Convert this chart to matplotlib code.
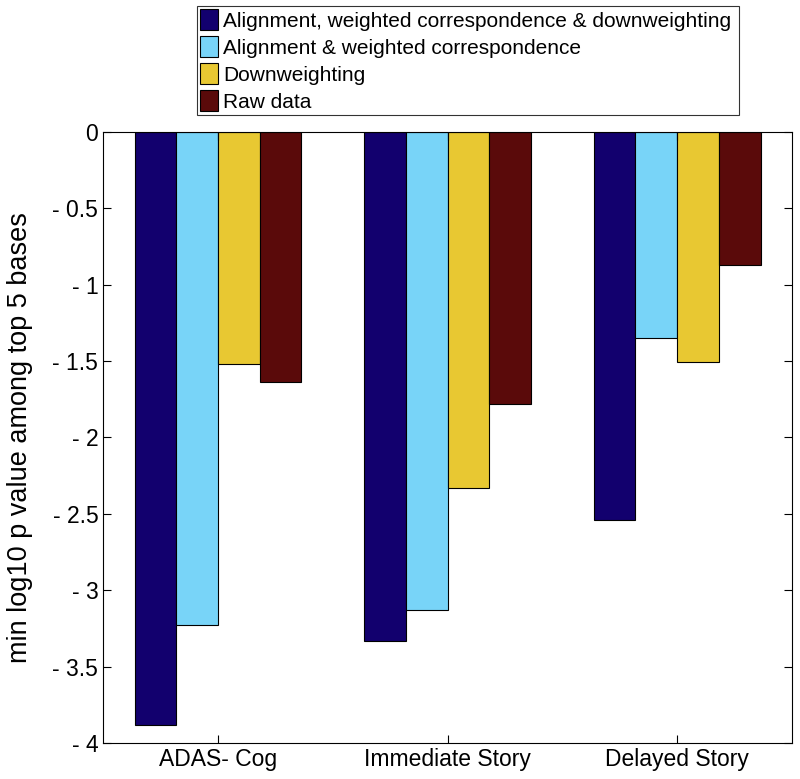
import numpy as np
import matplotlib
matplotlib.use("Agg")
from matplotlib import pyplot as plt

plt.rcParams['font.family'] = ['Liberation Sans', 'DejaVu Sans']

groups = ['ADAS- Cog', 'Immediate Story', 'Delayed Story']
series = ['Alignment, weighted correspondence & downweighting',
          'Alignment & weighted correspondence',
          'Downweighting',
          'Raw data']
full_method = [-3.88, -3.33, -2.54]
align_corr = [-3.23, -3.13, -1.35]
downweight = [-1.52, -2.33, -1.51]
raw_data = [-1.64, -1.78, -0.87]
colors = ['#12006e', '#78d4f8', '#e8c832', '#5a0a0a']

fig = plt.figure(figsize=(8, 7.79), dpi=100)
ax = fig.add_axes([0.129, 0.046, 0.861, 0.785])

x = np.arange(1, len(groups) + 1)
n = len(series)
gw = n / (n + 1.5)   # matlab style group width
bw = gw / n
handles = []
for i, vals in enumerate([full_method, align_corr, downweight, raw_data]):
    off = -gw / 2 + bw * (i + 0.5)
    h = ax.bar(x + off, vals, bw, color=colors[i], edgecolor='black', linewidth=0.8)
    handles.append(h)

ax.set_xlim(0.5, 3.5)
ax.set_ylim(-4, 0)
ax.set_xticks(x)
ax.set_xticklabels(groups, fontsize=16.5)
yt = np.arange(-4, 0.01, 0.5)
ax.set_yticks(yt)
ax.set_yticklabels([('- %g' % abs(v)) if v < 0 else '0' for v in yt], fontsize=16.5)
ax.tick_params(direction='in', length=6, top=True, right=True, width=0.8)
ax.set_ylabel('min log10 p value among top 5 bases', fontsize=19.5)
ax.yaxis.set_label_coords(-0.102, 0.5)
for s in ax.spines.values():
    s.set_linewidth(0.8)

leg = fig.legend(handles, series, loc='upper left',
                 bbox_to_anchor=(197 / 800, 1 - 117 / 779, 542 / 800, 111 / 779),
                 mode='expand', fontsize=15, frameon=True, fancybox=False,
                 edgecolor='black', handlelength=0.85, handleheight=1.2,
                 handletextpad=0.25, labelspacing=0.25, borderpad=0.15,
                 borderaxespad=0)
leg.get_frame().set_linewidth(0.8)

fig.savefig('out.png', dpi=100)
